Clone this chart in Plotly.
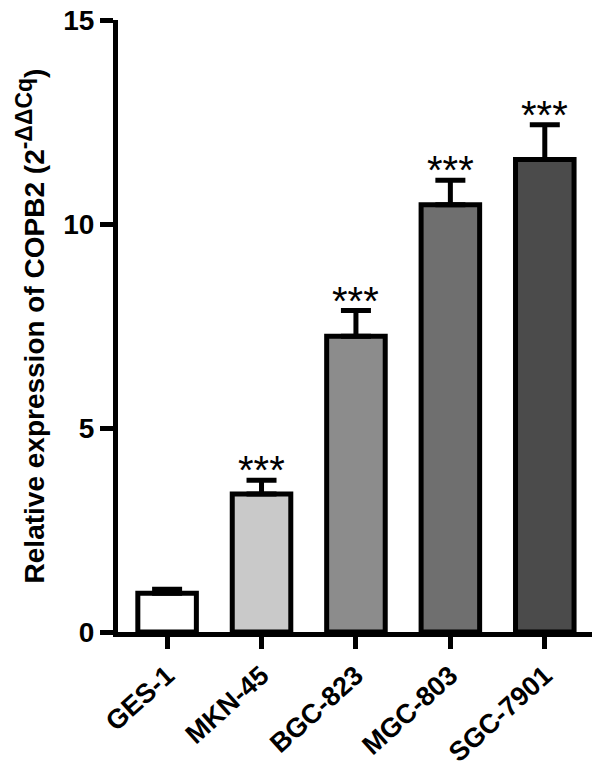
import plotly.graph_objects as go

cells = ["GES-1", "MKN-45", "BGC-823", "MGC-803", "SGC-7901"]
expr = [0.95, 3.38, 7.25, 10.47, 11.58]
sd = [0.10, 0.34, 0.63, 0.60, 0.85]
sig = ["", "***", "***", "***", "***"]
bar_colors = ["#ffffff", "#c9c9c9", "#8c8c8c", "#6f6f6f", "#4b4b4b"]

FONT = "Liberation Sans, Arial, sans-serif"

fig = go.Figure()
fig.add_trace(
    go.Bar(
        x=cells,
        y=expr,
        width=0.62,
        marker=dict(color=bar_colors, line=dict(color="black", width=5)),
        error_y=dict(
            type="data",
            array=sd,
            arrayminus=[0] * len(sd),
            symmetric=False,
            color="black",
            thickness=5,
            width=15,
        ),
        showlegend=False,
    )
)

# significance stars above the error caps
for c, v, e, s in zip(cells, expr, sd, sig):
    if s:
        fig.add_annotation(
            x=c, y=v + e, text=s, showarrow=False, yanchor="bottom", yshift=-14,
            font=dict(family=FONT, size=40, color="black"),
        )

# page body has an 8px default margin, so the figure is a bit smaller than the window
fig.update_layout(
    width=594,
    height=765,
    paper_bgcolor="white",
    plot_bgcolor="white",
    margin=dict(l=110, r=10, t=12, b=141, autoexpand=False),
    font=dict(family=FONT, color="black"),
    xaxis=dict(
        range=[-0.52, 4.5],
        automargin=False,
        showline=True,
        linecolor="black",
        linewidth=5,
        ticks="outside",
        ticklen=12,
        tickwidth=5,
        tickcolor="black",
        tickangle=-42,
        tickfont=dict(family=FONT, size=27, weight="bold"),
        ticklabeloverflow="allow",
        showgrid=False,
        zeroline=False,
    ),
    yaxis=dict(
        range=[0, 15],
        tickvals=[0, 5, 10, 15],
        automargin=False,
        showline=True,
        linecolor="black",
        linewidth=5,
        ticks="outside",
        ticklen=13,
        tickwidth=5,
        tickcolor="black",
        tickfont=dict(family=FONT, size=28, weight="bold"),
        ticklabeloverflow="allow",
        showgrid=False,
        zeroline=False,
        title=dict(
            text="<b>Relative expression of COPB2 (2<sup><span style='font-size:23px'>-ΔΔCq</span></sup>)</b>",
            font=dict(family=FONT, size=28),
            standoff=12,
        ),
    ),
)

fig.write_html("out.html")
